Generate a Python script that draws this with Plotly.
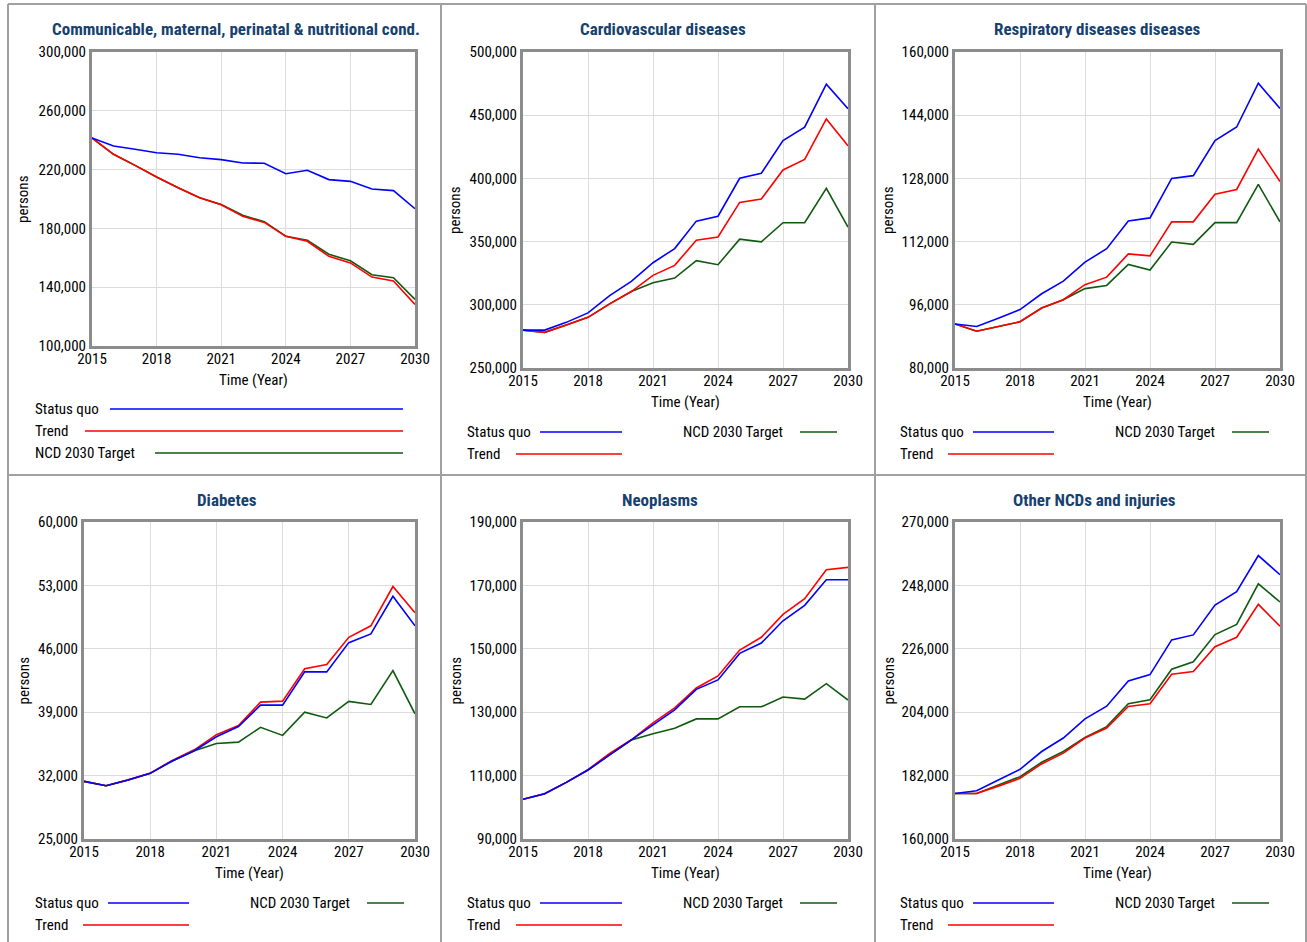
import plotly.graph_objects as go

W, H = 1307, 942
years = list(range(2015, 2031))

# ---------------- data ----------------
titles = [
    "Communicable, maternal, perinatal & nutritional cond.",
    "Cardiovascular diseases",
    "Respiratory diseases diseases",
    "Diabetes",
    "Neoplasms",
    "Other NCDs and injuries",
]
series_names = ["Status quo", "Trend", "NCD 2030 Target"]

comm_sq = [241500, 236000, 233800, 231500, 230400, 228100, 226800, 224500, 224300, 217200, 219500, 213200, 212000, 206800, 205700, 193400]
comm_tr = [241500, 230400, 222900, 215000, 207700, 200900, 196100, 188200, 184100, 174600, 171200, 161000, 156500, 146900, 144200, 128300]
comm_tg = [241500, 230400, 222900, 215000, 207700, 200900, 196300, 188900, 184600, 174700, 171900, 162400, 158000, 148500, 146500, 131700]

cvd_sq = [280000, 280000, 286100, 293600, 307300, 318500, 333300, 344500, 366200, 370100, 400100, 404100, 430000, 440600, 474600, 455200]
cvd_tr = [280000, 278200, 284000, 290100, 300700, 310500, 323300, 331200, 351100, 353700, 381000, 383700, 406700, 415000, 447000, 425800]
cvd_tg = [280000, 278200, 284000, 290100, 300700, 310500, 317400, 321100, 334900, 331700, 351900, 349800, 364900, 364900, 392100, 361400]

resp_sq = [91150, 90500, 92600, 94800, 98800, 102000, 106800, 110200, 117200, 118000, 128000, 128700, 137600, 141000, 152100, 145700]
resp_tr = [91150, 89300, 90500, 91700, 95200, 97300, 101100, 103000, 108900, 108400, 117000, 117000, 124000, 125200, 135400, 127200]
resp_tg = [91150, 89300, 90500, 91700, 95200, 97300, 100100, 100900, 106200, 104800, 111900, 111300, 116800, 116800, 126500, 117000]

diab_sq = [31360, 30880, 31510, 32250, 33620, 34740, 36290, 37410, 39780, 39780, 43450, 43450, 46680, 47640, 51800, 48540]
diab_tr = [31360, 30880, 31530, 32270, 33680, 34850, 36520, 37520, 40110, 40220, 43790, 44270, 47270, 48540, 52880, 49980]
diab_tg = [31360, 30880, 31510, 32250, 33620, 34740, 35550, 35700, 37330, 36440, 39000, 38370, 40190, 39850, 43600, 38820]

neo_sq = [102550, 104250, 107850, 111770, 116540, 121210, 126080, 130750, 137210, 140180, 148550, 151840, 158840, 163710, 171770, 171770]
neo_tr = [102550, 104250, 107850, 111900, 116970, 121300, 126610, 131380, 137640, 141450, 149610, 153640, 160850, 165830, 174950, 175690]
neo_tg = [102550, 104250, 107850, 111770, 116540, 121210, 123220, 124920, 127880, 127880, 131700, 131700, 134780, 134140, 139010, 133820]

oth_sq = [175790, 176720, 180450, 184180, 190360, 195030, 201670, 206100, 214850, 217060, 229070, 230820, 241200, 245860, 258340, 251690]
oth_tr = [175790, 175790, 178350, 181030, 186050, 189780, 195030, 198530, 205990, 206920, 217180, 218110, 226740, 230000, 241430, 233850]
oth_tg = [175790, 175790, 178700, 181620, 186630, 190360, 195260, 198990, 206920, 208320, 218930, 221500, 230940, 234440, 248550, 242250]

panel_data = [
    (comm_sq, comm_tr, comm_tg),
    (cvd_sq, cvd_tr, cvd_tg),
    (resp_sq, resp_tr, resp_tg),
    (diab_sq, diab_tr, diab_tg),
    (neo_sq, neo_tr, neo_tg),
    (oth_sq, oth_tr, oth_tg),
]
y_min = [100000, 250000, 80000, 25000, 90000, 160000]
y_max = [300000, 500000, 160000, 60000, 190000, 270000]
y_step = [40000, 50000, 16000, 7000, 20000, 22000]

# ---------------- styling / layout ----------------
colors = ["#0000FF", "#FF0000", "#0F5A0F"]
FONT = "Liberation Sans Narrow, Arial Narrow, Roboto Condensed, Liberation Sans, sans-serif"
TITLE_COLOR = "#17416E"
FRAME = "#8C8C8C"
SEP = "#A0A0A0"

# plot area boxes in pixels: (left, right, top, bottom)
boxes = [
    (92, 415, 52, 346),
    (523, 848, 52, 368),
    (955, 1280, 52, 368),
    (84, 415, 522, 839),
    (523, 848, 522, 839),
    (955, 1280, 522, 839),
]
title_pos = [(236, 29), (663, 29), (1097, 29), (227, 500), (660, 500), (1094, 500)]
persons_x = [23, 455, 888, 23, 455, 888]
time_y = [380, 402, 402, 873, 873, 873]


def px(x):
    return x / W


def py(y):
    return 1 - y / H


fig = go.Figure()
layout = dict(
    width=W, height=H, margin=dict(l=0, r=0, t=0, b=0, pad=0, autoexpand=False),
    paper_bgcolor="white", plot_bgcolor="white", showlegend=False,
    font=dict(family=FONT, size=15, color="black"),
)
annotations = []
shapes = []

for i in range(6):
    l, r, t, b = boxes[i]
    xa = "xaxis" if i == 0 else f"xaxis{i+1}"
    ya = "yaxis" if i == 0 else f"yaxis{i+1}"
    xr = "x" if i == 0 else f"x{i+1}"
    yr = "y" if i == 0 else f"y{i+1}"
    # draw order: target, trend, status quo on top
    for k in (2, 1, 0):
        fig.add_trace(go.Scatter(
            x=years, y=panel_data[i][k], mode="lines", name=series_names[k],
            line=dict(color=colors[k], width=1.6), xaxis=xr, yaxis=yr,
        ))
    layout[xa] = dict(
        domain=[px(l), px(r)], anchor=yr, range=[2015, 2030],
        tick0=2015, dtick=3, showgrid=True, gridcolor="#DCDCDC", gridwidth=1,
        showline=True, linecolor=FRAME, linewidth=3, mirror=True,
        ticks="", zeroline=False, tickfont=dict(size=15, family=FONT),
        ticklabelstandoff=-3, automargin=False,
    )
    layout[ya] = dict(
        domain=[py(b), py(t)], anchor=xr, range=[y_min[i], y_max[i]],
        tick0=y_min[i], dtick=y_step[i], tickformat=",d",
        showgrid=True, gridcolor="#DCDCDC", gridwidth=1,
        showline=True, linecolor=FRAME, linewidth=3, mirror=True,
        ticks="", zeroline=False, tickfont=dict(size=15, family=FONT),
        automargin=False,
    )
    # title
    annotations.append(dict(
        x=px(title_pos[i][0]), y=py(title_pos[i][1]), xref="paper", yref="paper",
        text="<b>" + titles[i] + "</b>", showarrow=False,
        font=dict(size=17, color=TITLE_COLOR, family=FONT),
        xanchor="center", yanchor="middle",
    ))
    # y-axis title
    annotations.append(dict(
        x=px(persons_x[i]), y=py((t + b) / 2), xref="paper", yref="paper",
        text="persons", showarrow=False, textangle=-90,
        font=dict(size=15, family=FONT), xanchor="center", yanchor="middle",
    ))
    # x-axis title
    annotations.append(dict(
        x=px((l + r) / 2), y=py(time_y[i]), xref="paper", yref="paper",
        text="Time (Year)", showarrow=False,
        font=dict(size=15, family=FONT), xanchor="center", yanchor="middle",
    ))

# ---------------- legends (text then line) ----------------
def legend_item(text, tx, ty, lx0, lx1, color):
    annotations.append(dict(
        x=px(tx), y=py(ty), xref="paper", yref="paper", text=text,
        showarrow=False, xanchor="left", yanchor="middle",
        font=dict(size=15, family=FONT),
    ))
    shapes.append(dict(
        type="line", xref="paper", yref="paper",
        x0=px(lx0), x1=px(lx1), y0=py(ty), y1=py(ty),
        line=dict(color=color, width=1.6),
    ))

# panel 1: three rows
legend_item(series_names[0], 33, 409, 110, 403, colors[0])
legend_item(series_names[1], 33, 431, 85, 403, colors[1])
legend_item(series_names[2], 33, 453, 155, 403, colors[2])

# other panels: two columns
col_off = {1: 440, 2: 875, 3: 8, 4: 440, 5: 875}
for i in range(1, 6):
    ox = col_off[i]
    if ox == 8:
        base = 0
        sq = (35, 108, 189)
        tr = (35, 83, 189)
        tg = (250, 367, 404)
    elif ox == 440:
        base = ox
        sq = (27, 100, 182)
        tr = (27, 76, 182)
        tg = (243, 360, 397)
    else:
        base = ox
        sq = (25, 98, 179)
        tr = (25, 73, 179)
        tg = (240, 357, 394)
    r1, r2 = (432, 454) if i < 3 else (903, 925)
    legend_item(series_names[0], base + sq[0] - 2, r1, base + sq[1], base + sq[2], colors[0])
    legend_item(series_names[1], base + tr[0] - 2, r2, base + tr[1], base + tr[2], colors[1])
    legend_item(series_names[2], base + tg[0] - 2, r1, base + tg[1], base + tg[2], colors[2])

# ---------------- panel separators / outer frame ----------------
def sep(x0, y0, x1, y1):
    shapes.append(dict(type="line", xref="paper", yref="paper",
                       x0=px(x0), y0=py(y0), x1=px(x1), y1=py(y1),
                       line=dict(color=SEP, width=2)))

sep(8, 4, 1306, 4)
sep(8, 4, 8, 942)
sep(1306, 4, 1306, 942)
sep(441, 4, 441, 942)
sep(875, 4, 875, 942)
sep(8, 475, 1306, 475)

layout["annotations"] = annotations
layout["shapes"] = shapes
fig.update_layout(**layout)
fig.write_html("out.html")
